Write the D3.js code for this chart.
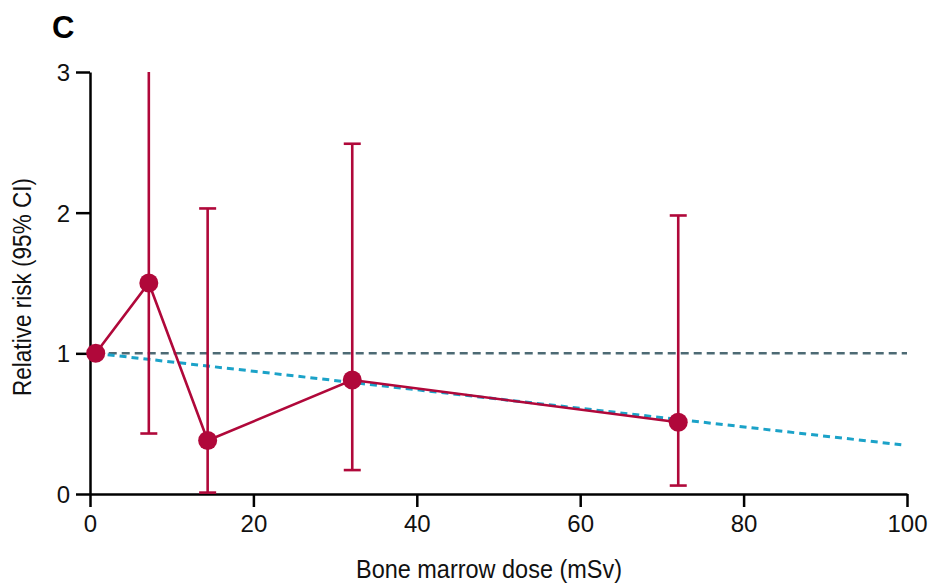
<!DOCTYPE html>
<html>
<head>
<meta charset="utf-8">
<script src="https://cdn.jsdelivr.net/npm/d3@7"></script>
<style>
  body { margin: 0; background: #fff; }
  svg { display: block; }
</style>
</head>
<body>
<div id="chart"></div>
<script>
// dose groups (mSv) and relative risks
const doses = [0.7, 7.2, 14.4, 32.1, 72.0];
const relRisk = [1.0, 1.5, 0.38, 0.81, 0.51];
const ciLow = [null, 0.43, 0.01, 0.17, 0.06];
const ciHigh = [null, 3.0, 2.03, 2.49, 1.98];

// fitted linear trend (endpoints)
const trendX = [0.7, 99.3];
const trendY = [1.0, 0.35];

const xTicks = [0, 20, 40, 60, 80, 100];
const yTicks = [0, 1, 2, 3];

const width = 930;
const height = 584;
const margin = { top: 72, right: 23, bottom: 90, left: 90 };

const red = "#b0083a";
const grey = "#4d6a74";
const blue = "#1ba2c8";
const font = "'Liberation Sans', Arial, sans-serif";

const svg = d3.select("#chart")
    .append("svg")
    .attr("width", width)
    .attr("height", height);

const x = d3.scaleLinear()
    .domain([0, 100])
    .range([margin.left, width - margin.right]);

const y = d3.scaleLinear()
    .domain([0, 3])
    .range([height - margin.bottom, margin.top]);

// panel letter
svg.append("text")
    .attr("x", 52)
    .attr("y", 38)
    .style("font-family", font)
    .style("font-weight", "bold")
    .style("font-size", "31px")
    .text("C");

// axes
const xAxis = svg.append("g")
    .attr("transform", `translate(0, ${y(0)})`)
    .call(d3.axisBottom(x).tickValues(xTicks).tickFormat(d3.format("d"))
        .tickSize(13).tickSizeOuter(0).tickPadding(8));

const yAxis = svg.append("g")
    .attr("transform", `translate(${x(0)}, 0)`)
    .call(d3.axisLeft(y).tickValues(yTicks).tickFormat(d3.format("d"))
        .tickSize(14).tickSizeOuter(0).tickPadding(6));

[xAxis, yAxis].forEach(g => {
    g.select(".domain").attr("stroke", "#000").attr("stroke-width", 2.5);
    g.selectAll(".tick line").attr("stroke", "#000").attr("stroke-width", 2.5);
    g.selectAll(".tick text")
        .attr("fill", "#111")
        .style("font-family", font)
        .style("font-size", "24px");
});
yAxis.selectAll(".tick text").attr("dy", "0.36em");

// axis titles (condensed to match the narrow face of the original)
svg.append("text")
    .attr("x", 489)
    .attr("y", 578)
    .attr("text-anchor", "middle")
    .attr("fill", "#111")
    .attr("textLength", 266)
    .attr("lengthAdjust", "spacingAndGlyphs")
    .style("font-family", font)
    .style("font-size", "26px")
    .text("Bone marrow dose (mSv)");

svg.append("text")
    .attr("transform", `translate(31, ${(y(0) + y(3)) / 2 + 4}) rotate(-90)`)
    .attr("text-anchor", "middle")
    .attr("fill", "#111")
    .attr("textLength", 218)
    .attr("lengthAdjust", "spacingAndGlyphs")
    .style("font-family", font)
    .style("font-size", "25px")
    .text("Relative risk (95% CI)");

// reference line at RR = 1
svg.append("line")
    .attr("x1", x(0.7))
    .attr("x2", x(100))
    .attr("y1", y(1))
    .attr("y2", y(1))
    .attr("stroke", grey)
    .attr("stroke-width", 2.5)
    .attr("stroke-dasharray", "8,5");

// trend line
svg.append("path")
    .datum(d3.zip(trendX, trendY))
    .attr("d", d3.line().x(d => x(d[0])).y(d => y(d[1])))
    .attr("fill", "none")
    .attr("stroke", blue)
    .attr("stroke-width", 3)
    .attr("stroke-dasharray", "7,5");

const points = doses.map((d, i) => ({
    dose: d, rr: relRisk[i], lo: ciLow[i], hi: ciHigh[i]
}));

// error bars
const bars = points.filter(d => d.lo !== null);
const capHalf = 8.5;

svg.selectAll(".ci")
    .data(bars)
    .enter()
    .append("line")
    .attr("x1", d => x(d.dose))
    .attr("x2", d => x(d.dose))
    .attr("y1", d => y(d.lo))
    .attr("y2", d => y(d.hi))
    .attr("stroke", red)
    .attr("stroke-width", 2.6);

svg.selectAll(".cap-lo")
    .data(bars)
    .enter()
    .append("line")
    .attr("x1", d => x(d.dose) - capHalf)
    .attr("x2", d => x(d.dose) + capHalf)
    .attr("y1", d => y(d.lo))
    .attr("y2", d => y(d.lo))
    .attr("stroke", red)
    .attr("stroke-width", 2.6);

// upper caps only where the interval is not cut at the top of the axis
svg.selectAll(".cap-hi")
    .data(bars.filter(d => d.hi < y.domain()[1]))
    .enter()
    .append("line")
    .attr("x1", d => x(d.dose) - capHalf)
    .attr("x2", d => x(d.dose) + capHalf)
    .attr("y1", d => y(d.hi))
    .attr("y2", d => y(d.hi))
    .attr("stroke", red)
    .attr("stroke-width", 2.6);

// connecting line + markers
svg.append("path")
    .datum(points)
    .attr("d", d3.line().x(d => x(d.dose)).y(d => y(d.rr)))
    .attr("fill", "none")
    .attr("stroke", red)
    .attr("stroke-width", 2.6);

svg.selectAll(".pt")
    .data(points)
    .enter()
    .append("circle")
    .attr("cx", d => x(d.dose))
    .attr("cy", d => y(d.rr))
    .attr("r", 9.5)
    .attr("fill", red);
</script>
</body>
</html>
